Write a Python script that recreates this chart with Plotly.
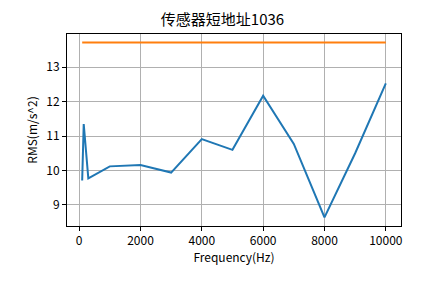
import plotly.graph_objects as go

freq = [100, 150, 300, 1000, 2000, 3000, 4000, 5000, 6000, 7000, 8000, 9000, 10000]
rms = [9.71, 11.35, 9.77, 10.12, 10.16, 9.94, 10.91, 10.60, 12.17, 10.77, 8.64, 10.50, 12.53]
threshold_x = [100, 10000]
threshold_y = [13.71, 13.71]
xticks = [0, 2000, 4000, 6000, 8000, 10000]
xticklabels = ["0", "2000", "4000", "6000", "8000", "10000"]
yticks = [9, 10, 11, 12, 13]
yticklabels = ["9", "10", "11", "12", "13"]

font = "Noto Sans CJK SC"

fig = go.Figure()
fig.add_trace(go.Scatter(x=freq, y=rms, mode="lines", line=dict(color="#1f77b4", width=2), showlegend=False))
fig.add_trace(go.Scatter(x=threshold_x, y=threshold_y, mode="lines", line=dict(color="#ff7f0e", width=2), showlegend=False))

axis_common = dict(
    showline=True, linecolor="black", linewidth=1, mirror=True,
    ticks="outside", ticklen=4, tickcolor="black", tickwidth=1,
    showgrid=True, gridcolor="#b0b0b0", gridwidth=1, zeroline=False,
    tickfont=dict(family=font, size=12, color="black"),
)

fig.update_layout(
    width=445, height=283,
    margin=dict(l=67, r=44, t=34, b=57),
    paper_bgcolor="white", plot_bgcolor="white",
    title=dict(text="传感器短地址1036", x=0.5, xanchor="center", y=1 - 20/283, yanchor="middle",
               font=dict(family=font, size=15, color="black")),
    xaxis=dict(range=[-395, 10495], tickvals=xticks, ticktext=xticklabels,
               title=dict(text="Frequency(Hz)", font=dict(family=font, size=12, color="black"), standoff=4),
               **axis_common),
    yaxis=dict(range=[8.39, 13.96], tickvals=yticks, ticktext=yticklabels,
               title=dict(text="RMS(m/s^2)", font=dict(family=font, size=12, color="black"), standoff=6),
               **axis_common),
)

fig.write_html("out.html")
